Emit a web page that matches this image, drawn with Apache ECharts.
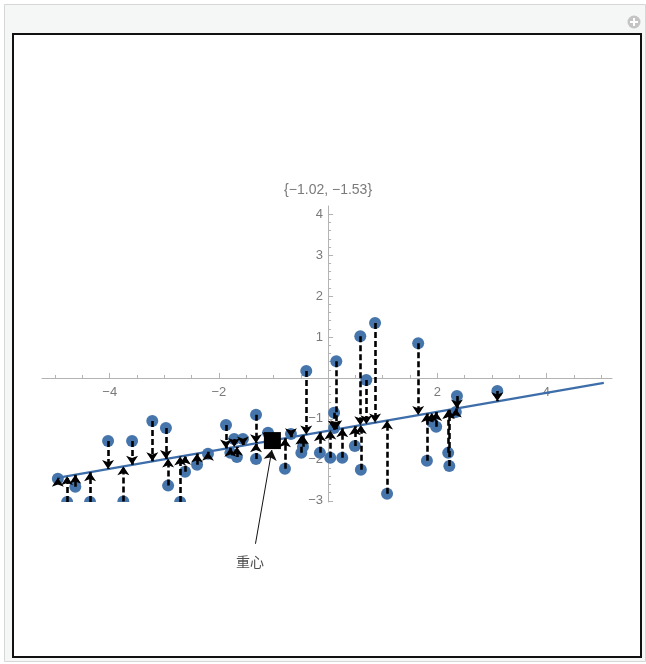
<!DOCTYPE html>
<html><head><meta charset="utf-8">
<script src="https://cdn.jsdelivr.net/npm/echarts@6/dist/echarts.min.js"></script>
<style>html,body{margin:0;padding:0;background:#fff}#c{width:646px;height:664px}</style>
</head><body><div id="c"></div><script>
// ---- data ----
const pointX = [-4.95,-4.78,-4.63,-4.36,-4.03,-3.75,-3.59,-3.22,-2.97,-2.93,-2.71,-2.62,-2.40,-2.20,-1.87,-1.72,-1.56,-1.79,-1.67,-1.32,-1.32,-1.10,-0.79,-0.68,-0.49,-0.46,-0.40,-0.15,0.04,0.11,0.15,0.11,0.26,0.49,0.59,0.60,0.70,0.86,1.08,1.65,1.81,1.90,1.98,2.20,2.22,2.36,2.34,3.10];
const pointY = [-2.46,-3.03,-2.66,-3.03,-1.54,-3.02,-1.54,-1.05,-1.22,-2.63,-3.03,-2.29,-2.12,-1.85,-1.15,-1.49,-1.49,-1.83,-1.93,-0.90,-1.98,-1.34,-2.22,-1.37,-1.83,-1.68,0.17,-1.83,-1.95,-0.85,0.41,-1.22,-1.95,-1.66,1.02,-2.24,-0.05,1.34,-2.83,0.85,-2.02,-1.07,-1.19,-1.83,-2.15,-0.44,-0.83,-0.32];
const fitLineX = [-4.96, 5.05];
const fitLineY = [-2.44, -0.12];
const centroid = [-1.02, -1.53];
const centroidLabel = '{-1.02, -1.53}';
const xTickLabels = [-4, -2, 2, 4];
const yTickLabels = [-3, -2, -1, 1, 2, 3, 4];
const annotationText = '重心';
const annotationArrow = [[-1.33, -4.05], [-1.03, -1.76]];
const annotationTextPos = [-1.43, -4.49];

// ---- helpers ----
const minus = v => String(v).replace(/-/g, '\u2212');
const slope = (fitLineY[1] - fitLineY[0]) / (fitLineX[1] - fitLineX[0]);
const onLine = x => fitLineY[0] + (x - fitLineX[0]) * slope;
const XMIN = -5.24, XMAX = 5.2, YMIN = -3.03, YMAX = 4.2;
const W = 646, H = 664;
const G = { left: 42, right: 34, top: 206, bottom: 162 };
const gw = W - G.left - G.right, gh = H - G.top - G.bottom;
// axes cross at the origin: shift the axes inward from the grid edges
const xAxisOffset = -((0 - YMIN) / (YMAX - YMIN)) * gh;
const yAxisOffset = -((0 - XMIN) / (XMAX - XMIN)) * gw;

const xMinor = [], yMinor = [];
for (let v = -5; v <= 5.001; v += 0.5) xMinor.push(+v.toFixed(2));
for (let v = -3; v <= 4.001; v += 0.2) yMinor.push(+v.toFixed(2));
const xMajor = [-4, -2, 0, 2, 4];
const yMajor = [-3, -2, -1, 0, 1, 2, 3, 4];

const axisColor = '#b3b3b3';
const labelColor = '#7a7a7a';
const font = 'Liberation Sans, Arial, sans-serif';
const pointColor = '#4675ab';

const points = pointX.map((x, i) => [x, pointY[i]]);
const arrows = pointX.map((x, i) => ({ coords: [[x, pointY[i]], [x, onLine(x)]] }));

const chart = echarts.init(document.getElementById('c'), null, { renderer: 'canvas' });
chart.setOption({
  backgroundColor: 'transparent',
  animation: false,
  graphic: [
    { type: 'rect', z: -10, shape: { x: 4.5, y: 4.5, width: 641, height: 657 },
      style: { fill: '#f5f6f6', stroke: '#d6d6d6', lineWidth: 1 } },
    { type: 'rect', z: -9, shape: { x: 13, y: 34, width: 628, height: 623 },
      style: { fill: '#ffffff', stroke: '#111111', lineWidth: 2 } },
    { type: 'circle', z: -8, shape: { cx: 634, cy: 22, r: 6.5 }, style: { fill: '#c4c4c4' } },
    { type: 'rect', z: -7, shape: { x: 630, y: 21, width: 8, height: 2 }, style: { fill: '#fff' } },
    { type: 'rect', z: -7, shape: { x: 633, y: 18, width: 2, height: 8 }, style: { fill: '#fff' } }
  ],
  grid: { left: G.left, right: G.right, top: G.top, bottom: G.bottom, containLabel: false },
  xAxis: [
    { type: 'value', min: XMIN, max: XMAX, position: 'bottom', offset: xAxisOffset,
      axisLine: { show: true, onZero: false, lineStyle: { color: axisColor, width: 1 } },
      splitLine: { show: false },
      axisTick: { show: true, inside: true, length: 5, customValues: xMajor, lineStyle: { color: axisColor } },
      axisLabel: { show: true, customValues: xTickLabels, formatter: minus, color: labelColor, fontSize: 13, fontFamily: font, margin: 8 } },
    { type: 'value', min: XMIN, max: XMAX, position: 'bottom', offset: xAxisOffset,
      axisLine: { show: false, onZero: false },
      splitLine: { show: false },
      axisTick: { show: true, inside: true, length: 3, customValues: xMinor, lineStyle: { color: axisColor } },
      axisLabel: { show: false } }
  ],
  yAxis: [
    { type: 'value', min: YMIN, max: YMAX, position: 'left', offset: yAxisOffset,
      name: minus(centroidLabel), nameLocation: 'end', nameGap: 9,
      nameTextStyle: { color: labelColor, fontSize: 14, fontFamily: font, align: 'center' },
      axisLine: { show: true, onZero: false, lineStyle: { color: axisColor, width: 1 } },
      splitLine: { show: false },
      axisTick: { show: true, inside: true, length: 5, customValues: yMajor, lineStyle: { color: axisColor } },
      axisLabel: { show: true, customValues: yTickLabels, formatter: minus, color: labelColor, fontSize: 13, fontFamily: font, margin: 5 } },
    { type: 'value', min: YMIN, max: YMAX, position: 'left', offset: yAxisOffset,
      axisLine: { show: false, onZero: false },
      splitLine: { show: false },
      axisTick: { show: true, inside: true, length: 3, customValues: yMinor, lineStyle: { color: axisColor } },
      axisLabel: { show: false } }
  ],
  series: [
    { type: 'custom', data: points, z: 2, clip: true, silent: true,
      encode: { x: 0, y: 1 },
      renderItem: (params, api) => {
        const p = api.coord([api.value(0), api.value(1)]);
        return { type: 'circle', shape: { cx: p[0], cy: p[1], r: 6 }, style: { fill: pointColor } };
      } },
    { type: 'line', data: [[fitLineX[0], fitLineY[0]], [fitLineX[1], fitLineY[1]]],
      showSymbol: false, z: 3, lineStyle: { color: '#3d6ea9', width: 2.2 }, silent: true },
    { type: 'lines', coordinateSystem: 'cartesian2d', data: arrows, z: 4, clip: true,
      symbol: ['none', 'arrow'], symbolSize: 9, silent: true,
      lineStyle: { color: '#000', width: 2.6, type: [6, 3], opacity: 1 } },
    { type: 'scatter', data: [centroid], symbol: 'rect', symbolSize: 17, z: 10,
      itemStyle: { color: '#000', opacity: 1 }, silent: true },
    { type: 'lines', coordinateSystem: 'cartesian2d', data: [{ coords: annotationArrow }], z: 11, clip: false,
      symbol: ['none', 'arrow'], symbolSize: 10, silent: true,
      lineStyle: { color: '#111', width: 1, type: 'solid', opacity: 1 } },
    { type: 'scatter', data: [annotationTextPos], symbolSize: 1, z: 11, clip: false, silent: true,
      itemStyle: { color: 'rgba(0,0,0,0)' },
      label: { show: true, position: 'inside', formatter: annotationText, color: '#222', fontSize: 14,
               fontFamily: 'Noto Sans CJK SC, sans-serif' } }
  ]
});
</script></body></html>
